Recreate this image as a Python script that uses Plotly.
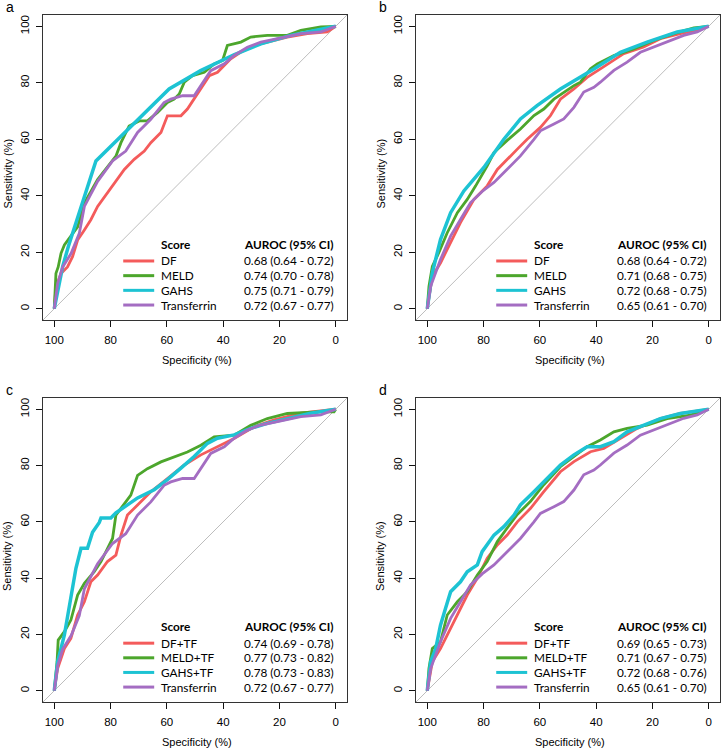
import plotly.graph_objects as go

# ---------------- data ----------------
TICK_VALS = [100, 80, 60, 40, 20, 0]
TICK_TEXT = ["100", "80", "60", "40", "20", "0"]
PANEL_LETTERS = ["a", "b", "c", "d"]
X_TITLE = "Specificity (%)"
Y_TITLE = "Sensitivity (%)"
LEGEND_HEAD = ["Score", "AUROC (95% CI)"]

# shared Transferrin curves
TF_AC_SPEC = [100, 98.8, 97, 94, 91.1, 89.3, 84.6, 79.3, 74.6, 70.4, 65.7, 61, 58.6, 54.4, 50.3, 47.9,
              44.4, 39.6, 36.1, 31.4, 26.6, 20.7, 12.4, 5.3, 0]
TF_AC_SENS = [0, 8.9, 14.8, 19.6, 26.7, 36.2, 45.1, 52.3, 55.8, 62.4, 67.1, 73, 74.2, 75.4, 75.4, 79,
              84.3, 86.7, 89.7, 92.6, 94.4, 95.6, 97.4, 98, 100]
TF_BD_SPEC = [100, 98.8, 95.3, 91.7, 88.2, 84.6, 80.5, 76.3, 71.6, 66.9, 62.1, 59.8, 55, 51.5, 47.9, 44.4,
              40.8, 38.5, 33.7, 29, 24.3, 19.5, 13.6, 8.9, 4.1, 0]
TF_BD_SENS = [0, 7.9, 17.4, 25.7, 31.6, 37.6, 41.5, 44.7, 49.4, 54.1, 60, 63, 65.4, 67.2, 71.3, 76.7,
              78.4, 80.2, 84.4, 87.3, 90.8, 92.6, 95, 96.8, 98, 100]

# panel a
A_DF_SPEC = [100, 99.4, 97.6, 95.3, 93.5, 91.7, 89.3, 87, 84.6, 81.1, 78.1, 75.1, 71.6, 68, 65.7, 62.1,
             59.8, 55, 52.7, 49.7, 47.3, 44.9, 42, 37.3, 33.7, 29, 24.3, 17.2, 10.1, 3, 0]
A_DF_SENS = [0, 7.7, 12.5, 14.8, 18.4, 24.3, 27.9, 31.5, 36.2, 41, 45.1, 49.3, 52.9, 55.8, 58.8, 62.4,
             68.3, 68.3, 70.7, 75.4, 79, 82.5, 83.7, 88.5, 90.9, 93.2, 94.4, 96.2, 97.4, 98, 100]
A_MELD_SPEC = [100, 99.4, 98.6, 97.6, 96.4, 94.7, 91.7, 89.3, 84.6, 79.9, 78.1, 76.3, 73.4, 69.8, 66.9,
               63.3, 59.8, 57.4, 55.6, 53.8, 50.9, 46.7, 43.2, 40.2, 38.5, 33.7, 30.2, 24.3, 17.2, 12.4, 5.3, 0]
A_MELD_SENS = [0, 12.5, 14.8, 19.6, 22.6, 25, 29, 37.4, 45.7, 51.7, 54, 58.8, 64.7, 66.5, 66.5,
               69.5, 73, 74.2, 76, 80.2, 82.5, 83.7, 86.7, 87.9, 93.2, 94.4, 96.2, 96.8, 96.8, 98.6, 99.8, 100]
A_GAHS_SPEC = [100, 98.5, 97, 95, 93, 90, 87.5, 85.2, 59.2, 48, 36, 26.6, 16, 0]
A_GAHS_SENS = [0, 8, 15, 22, 28, 37, 45, 52.3, 77.8, 84.3, 90, 93.8, 96.8, 100]

# panel b
B_DF_SPEC = [100, 98.2, 95.3, 91.7, 88.2, 83.4, 78.7, 75.1, 71.6, 68, 64.5, 59.8, 56.2, 52.7, 47.9, 43.2,
             38.5, 34.9, 30.2, 23.1, 17.2, 10.1, 4.1, 0]
B_DF_SENS = [0, 11.5, 16.2, 23.3, 30.5, 38.7, 43.5, 49.3, 53, 56.5, 60, 64.2, 68.4, 74.2, 77.8, 81.9,
             84.9, 87.3, 90.3, 92.7, 95.6, 97.4, 98.6, 100]
B_MELD_SPEC = [100, 99.4, 98.2, 95.9, 92.9, 89.3, 85.8, 82.8, 78.7, 76.3, 71.6, 66.9, 62.1, 58.6, 55, 51.5,
               47.9, 45.6, 42, 39.6, 33.7, 26.6, 19.5, 12.4, 5.3, 0]
B_MELD_SENS = [0, 7.9, 15, 19.8, 26.9, 34, 38.7, 43.5, 50.6, 55.3, 59.6, 63.6, 68.4, 70.7, 74.2, 76.7,
               79, 80.2, 85, 86.7, 89.6, 92, 95, 97.4, 99.4, 100]
B_GAHS_SPEC = [100, 98.2, 95.3, 91.7, 87, 79.9, 72.8, 66.9, 61, 52.7, 40.8, 31.4, 21.9, 11.2, 0]
B_GAHS_SENS = [0, 12.7, 24.5, 34, 41.7, 50, 60, 67.2, 71.9, 77.8, 84.9, 90.8, 94.4, 98, 100]

# panel c
C_DF_SPEC = [100, 98.8, 96.4, 94.1, 91.7, 89.3, 87, 84.6, 81.1, 78.1, 76.3, 74, 70.4, 65.7, 59.8, 53.8,
             47.9, 42, 36.1, 29, 21.9, 12.4, 0]
C_DF_SENS = [0, 7.9, 15, 18.6, 26.9, 31.6, 38.7, 41.1, 45.9, 48.2, 55.3, 62.4, 66, 70.7, 75.4, 80.2,
             83.8, 86.7, 89.6, 93.8, 96.2, 98.6, 100]
C_MELD_SPEC = [100, 99, 98.6, 96.4, 94.1, 91.7, 89.3, 85.8, 83.4, 81.1, 79.3, 78.1, 76.3, 72.8, 70.4, 66.9,
               62.1, 57.4, 52.7, 47.9, 43.2, 36.1, 30.2, 24.3, 17.2, 6.5, 0.6, 0]
C_MELD_SENS = [0, 10.3, 18, 21, 25.1, 34, 38.2, 42.3, 45.9, 50.6, 54.1, 62.4, 64.8, 69.5, 76.5, 78.9,
               81.3, 83.1, 84.8, 87.2, 90.2, 90.8, 94.3, 96.7, 98.5, 99.1, 99.1, 100]
C_GAHS_SPEC = [100, 98.8, 96.4, 94.7, 93.5, 92.3, 90.5, 88.2, 86.4, 84, 83.4, 79.9, 78.1, 74.6, 70.4, 64.5,
               59.8, 55, 50.3, 45.6, 42, 36.1, 30.2, 24.3, 17.2, 8.9, 0]
C_GAHS_SENS = [0, 10.3, 19.8, 29.3, 36.4, 43.5, 50.6, 50.6, 56.3, 59.8, 61.4, 61.4, 63.2, 65.6, 68.5, 71.4,
               75, 79.1, 83.2, 87.9, 89.7, 90.9, 93.2, 95, 96.8, 98.6, 100]

# panel d
D_DF_SPEC = [100, 98.2, 95.3, 92.9, 89.3, 85.8, 82.2, 78.7, 75.1, 71.6, 68, 63.3, 58.6, 52.7, 47.9, 42,
             37.3, 31.4, 25.4, 17.2, 10.1, 0]
D_DF_SENS = [0, 10.3, 15, 19.8, 26.9, 34, 40, 47.1, 51.8, 55.3, 60, 64.8, 70.7, 77.8, 81.4, 84.9,
             86.1, 89.7, 93.2, 96.7, 98.5, 100]
D_MELD_SPEC = [100, 99.4, 98.2, 95.3, 92.9, 89.3, 85.8, 82.2, 78.7, 75.1, 71.6, 68, 63.3, 58.6, 52.7, 47.9,
               43.2, 38.5, 33.7, 29, 21.9, 14.8, 6.5, 0]
D_MELD_SENS = [0, 7.9, 15, 17.4, 26.9, 31.6, 35.2, 41.1, 45.9, 53, 57.8, 62.6, 67.3, 73.2, 79.6, 83.2,
               86.7, 89.1, 92, 93.2, 94.4, 96.7, 97.9, 100]
D_GAHS_SPEC = [100, 98.8, 97, 95.3, 93.5, 91.7, 88.2, 85.8, 82.2, 80.5, 76.3, 72.8, 69.2, 66.9, 62.1, 57.4,
               52.7, 47.9, 43.2, 38.5, 33.7, 29, 23.1, 17.2, 10.1, 0]
D_GAHS_SENS = [0, 10.3, 15, 23.3, 29.3, 35.2, 38.7, 42.3, 44.7, 49.4, 55.3, 58.3, 62.4, 66, 70.7, 75.4,
               80.2, 83.8, 86.7, 86.7, 88.5, 92, 94.3, 96.7, 98.5, 100]

NAMES_AB = ["DF", "MELD", "GAHS", "Transferrin"]
NAMES_CD = ["DF+TF", "MELD+TF", "GAHS+TF", "Transferrin"]
AUROC_A = ["0.68 (0.64 - 0.72)", "0.74 (0.70 - 0.78)", "0.75 (0.71 - 0.79)", "0.72 (0.67 - 0.77)"]
AUROC_B = ["0.68 (0.64 - 0.72)", "0.71 (0.68 - 0.75)", "0.72 (0.68 - 0.75)", "0.65 (0.61 - 0.70)"]
AUROC_C = ["0.74 (0.69 - 0.78)", "0.77 (0.73 - 0.82)", "0.78 (0.73 - 0.83)", "0.72 (0.67 - 0.77)"]
AUROC_D = ["0.69 (0.65 - 0.73)", "0.71 (0.67 - 0.75)", "0.72 (0.68 - 0.76)", "0.65 (0.61 - 0.70)"]

COLORS = ["#F45B5B", "#4CA62C", "#1DC3D3", "#A46DC2"]
WIDTHS = [2.8, 2.8, 3.5, 2.8]

AX_RANGE = [104, -4]
AY_RANGE = [-4, 104]

# ---------------- layout geometry ----------------
W, H = 723, 750
def fx(px):
    return px / W
def fy(py):
    return 1 - py / H

panels = [
    dict(letter=PANEL_LETTERS[0], xd=[fx(43), fx(347)], yd=[fy(320), fy(15)],
         curves=[(A_DF_SPEC, A_DF_SENS), (A_MELD_SPEC, A_MELD_SENS), (A_GAHS_SPEC, A_GAHS_SENS), (TF_AC_SPEC, TF_AC_SENS)],
         names=NAMES_AB, auroc=AUROC_A, left=43, top=15, bottom=320, right=347),
    dict(letter=PANEL_LETTERS[1], xd=[fx(416), fx(720)], yd=[fy(320), fy(15)],
         curves=[(B_DF_SPEC, B_DF_SENS), (B_MELD_SPEC, B_MELD_SENS), (B_GAHS_SPEC, B_GAHS_SENS), (TF_BD_SPEC, TF_BD_SENS)],
         names=NAMES_AB, auroc=AUROC_B, left=416, top=15, bottom=320, right=720),
    dict(letter=PANEL_LETTERS[2], xd=[fx(43), fx(347)], yd=[fy(702), fy(398)],
         curves=[(C_DF_SPEC, C_DF_SENS), (C_MELD_SPEC, C_MELD_SENS), (C_GAHS_SPEC, C_GAHS_SENS), (TF_AC_SPEC, TF_AC_SENS)],
         names=NAMES_CD, auroc=AUROC_C, left=43, top=398, bottom=702, right=347),
    dict(letter=PANEL_LETTERS[3], xd=[fx(416), fx(720)], yd=[fy(702), fy(398)],
         curves=[(D_DF_SPEC, D_DF_SENS), (D_MELD_SPEC, D_MELD_SENS), (D_GAHS_SPEC, D_GAHS_SENS), (TF_BD_SPEC, TF_BD_SENS)],
         names=NAMES_CD, auroc=AUROC_D, left=416, top=398, bottom=702, right=720),
]

# legend placement in data units
LEG_LINE_X = [75.5, 64.5]
LEG_TEXT_X = 62.3
LEG_AUC_X = 32.8
LEG_HEAD_Y = 22.8
LEG_ROW_Y = [16.9, 11.7, 6.5, 1.3]

TICK_FONT = dict(family="Liberation Sans, Arial, sans-serif", size=11.5, color="#000")
LEG_FONT = dict(family="Lato, Open Sans, sans-serif", size=11.8, color="#000")

fig = go.Figure()
annotations = []
shapes = []

for i, p in enumerate(panels):
    sfx = "" if i == 0 else str(i + 1)
    xa, ya = "x" + sfx, "y" + sfx
    # diagonal reference line across the whole plot area
    fig.add_trace(go.Scatter(x=[AX_RANGE[0], AX_RANGE[1]], y=[AY_RANGE[0], AY_RANGE[1]],
                             mode="lines", line=dict(color="#BDBDBD", width=1),
                             xaxis=xa, yaxis=ya, showlegend=False, hoverinfo="skip"))
    for k, (sx, sy) in enumerate(p["curves"]):
        fig.add_trace(go.Scatter(x=sx, y=sy, mode="lines", name=p["names"][k],
                                 line=dict(color=COLORS[k], width=WIDTHS[k]),
                                 xaxis=xa, yaxis=ya, showlegend=False))
    fig.layout["xaxis" + sfx] = dict(
        domain=p["xd"], range=AX_RANGE, anchor=ya, tickvals=TICK_VALS, ticktext=TICK_TEXT,
        ticks="outside", ticklen=6, tickwidth=1.2, tickcolor="#111", showgrid=False, zeroline=False,
        showline=True, linecolor="#333", linewidth=1.3, mirror=True, tickfont=TICK_FONT,
        ticklabelstandoff=3, fixedrange=True)
    fig.layout["yaxis" + sfx] = dict(
        domain=p["yd"], range=AY_RANGE, anchor=xa, tickvals=TICK_VALS, ticktext=TICK_TEXT,
        ticks="outside", ticklen=6, tickwidth=1.2, tickcolor="#111", showgrid=False, zeroline=False,
        showline=True, linecolor="#333", linewidth=1.3, mirror=True, tickfont=TICK_FONT,
        tickangle=-90, ticklabelstandoff=2, fixedrange=True)

    cx = (p["left"] + p["right"]) / 2 + 2
    cy = (p["top"] + p["bottom"]) / 2 + 6
    annotations.append(dict(text=X_TITLE, x=fx(cx), y=fy(p["bottom"] + 40), xref="paper", yref="paper",
                            showarrow=False, font=dict(family="Liberation Sans, Arial", size=11, color="#000"),
                            xanchor="center", yanchor="middle"))
    annotations.append(dict(text=Y_TITLE, x=fx(p["left"] - 36), y=fy(cy), xref="paper", yref="paper",
                            showarrow=False, textangle=-90,
                            font=dict(family="Liberation Sans, Arial", size=11, color="#000"),
                            xanchor="center", yanchor="middle"))
    annotations.append(dict(text=p["letter"], x=fx(p["left"] - 39), y=fy(p["top"] - 8), xref="paper", yref="paper",
                            showarrow=False, font=dict(family="Liberation Sans, Arial", size=14, color="#000"),
                            xanchor="left", yanchor="middle"))
    # legend
    annotations.append(dict(text="<b>" + LEGEND_HEAD[0] + "</b>", x=LEG_TEXT_X, y=LEG_HEAD_Y, xref=xa, yref=ya,
                            showarrow=False, font=LEG_FONT, xanchor="left", yanchor="middle", borderpad=0))
    annotations.append(dict(text="<b>" + LEGEND_HEAD[1] + "</b>", x=LEG_AUC_X, y=LEG_HEAD_Y, xref=xa, yref=ya,
                            showarrow=False, font=LEG_FONT, xanchor="left", yanchor="middle", borderpad=0))
    for k in range(4):
        shapes.append(dict(type="line", xref=xa, yref=ya, x0=LEG_LINE_X[0], x1=LEG_LINE_X[1],
                           y0=LEG_ROW_Y[k], y1=LEG_ROW_Y[k], line=dict(color=COLORS[k], width=3)))
        annotations.append(dict(text=p["names"][k], x=LEG_TEXT_X, y=LEG_ROW_Y[k], xref=xa, yref=ya,
                                showarrow=False, font=LEG_FONT, xanchor="left", yanchor="middle", borderpad=0))
        annotations.append(dict(text=p["auroc"][k], x=LEG_AUC_X, y=LEG_ROW_Y[k], xref=xa, yref=ya,
                                showarrow=False, font=LEG_FONT, xanchor="left", yanchor="middle", borderpad=0))

fig.update_layout(width=W, height=H, margin=dict(l=0, r=0, t=0, b=0, autoexpand=False),
                  paper_bgcolor="white", plot_bgcolor="white", showlegend=False,
                  annotations=annotations, shapes=shapes)

fig.write_html("out.html", config={"displayModeBar": False},
               post_script="document.body.style.margin='0';document.body.style.overflow='hidden';")
